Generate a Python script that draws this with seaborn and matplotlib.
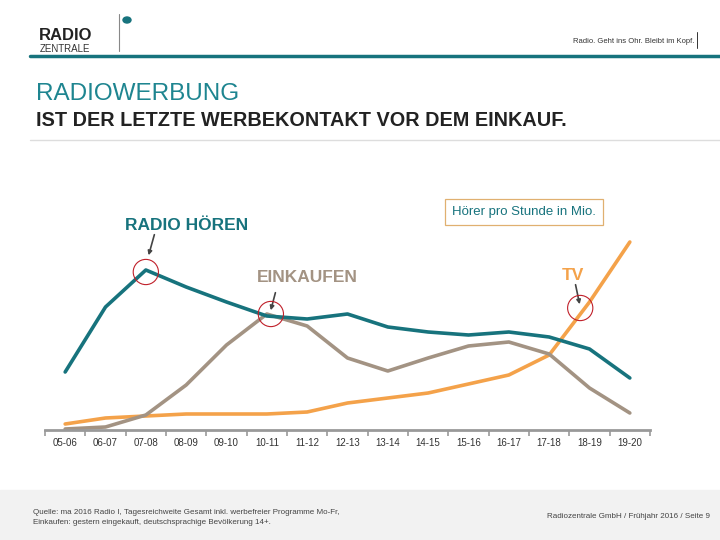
import matplotlib
matplotlib.use("Agg")
import matplotlib.pyplot as plt
import matplotlib.patches as mpatches
import matplotlib.lines as mlines
import pandas as pd
import seaborn as sns

# season labels on the x axis
seasons = ["05-06", "06-07", "07-08", "08-09", "09-10", "10-11", "11-12", "12-13",
           "13-14", "14-15", "15-16", "16-17", "17-18", "18-19", "19-20"]

# Hörer pro Stunde (relative scale)
radio_hoeren = [5.8, 12.3, 16.0, 14.3, 12.8, 11.4, 11.1, 11.6, 10.3, 9.8, 9.5, 9.8, 9.3, 8.1, 5.2]
einkaufen = [0.1, 0.3, 1.5, 4.5, 8.5, 11.6, 10.4, 7.2, 5.9, 7.2, 8.4, 8.8, 7.6, 4.2, 1.7]
tv = [0.6, 1.2, 1.4, 1.6, 1.6, 1.6, 1.8, 2.7, 3.2, 3.7, 4.6, 5.5, 7.5, 12.8, 18.8]

TEAL = "#17737d"
TAUPE = "#a39383"
ORANGE = "#f4a24a"
TITLE_TEAL = "#1e8590"

sns.set_theme(style="white")
plt.rcParams["font.family"] = ["Liberation Sans", "DejaVu Sans"]

rows = []
for name, vals in [("RADIO HÖREN", radio_hoeren), ("EINKAUFEN", einkaufen), ("TV", tv)]:
    for i, v in enumerate(vals):
        rows.append({"pos": i, "wert": v, "serie": name})
df = pd.DataFrame(rows)

fig = plt.figure(figsize=(7.2, 5.4), dpi=100)


def px(x, y):
    return x / 720, 1 - y / 540


# header / logo
fig.text(*px(39, 40), "RADIO", fontsize=12, fontweight="bold", color="#222222", va="baseline")
fig.text(*px(40, 52.5), "ZENTRALE", fontsize=7, color="#333333", va="baseline")
fig.add_artist(mlines.Line2D([119 / 720, 119 / 720], [1 - 14 / 540, 1 - 51 / 540],
                             color="#888888", lw=0.8))
fig.add_artist(mpatches.Circle(px(127, 20), 4 / 720, color=TEAL, transform=fig.transFigure))
fig.text(*px(694, 42), "Radio. Geht ins Ohr. Bleibt im Kopf.", fontsize=5.5, color="#333333",
         ha="right", va="center")
fig.add_artist(mlines.Line2D([697 / 720, 697 / 720], [1 - 32 / 540, 1 - 48 / 540],
                             color="#333333", lw=0.7))
fig.add_artist(mlines.Line2D([30 / 720, 1], [1 - 56 / 540, 1 - 56 / 540], color=TEAL, lw=2.5))

# titles
fig.text(*px(36, 94), "RADIOWERBUNG", fontsize=17.5, color=TITLE_TEAL, va="center")
fig.text(*px(36, 121), "IST DER LETZTE WERBEKONTAKT VOR DEM EINKAUF.", fontsize=14.3,
         fontweight="bold", color="#222222", va="center")
fig.add_artist(mlines.Line2D([30 / 720, 1], [1 - 140 / 540, 1 - 140 / 540], color="#dddddd", lw=1))

# footer
fig.add_artist(mpatches.Rectangle((0, 0), 1, 50 / 540, color="#f2f2f2", transform=fig.transFigure,
                                  zorder=0))
fig.text(*px(33, 513), "Quelle: ma 2016 Radio I, Tagesreichweite Gesamt inkl. werbefreier Programme Mo-Fr,",
         fontsize=5.8, color="#444444", va="center")
fig.text(*px(33, 522), "Einkaufen: gestern eingekauft, deutschsprachige Bevölkerung 14+.",
         fontsize=5.8, color="#444444", va="center")
fig.text(*px(710, 517), "Radiozentrale GmbH / Frühjahr 2016 / Seite 9", fontsize=5.8,
         color="#444444", ha="right", va="center")

# chart
ax = fig.add_axes([45 / 720, 110 / 540, 605 / 720, 200 / 540])
ax.set_facecolor("none")
sns.lineplot(data=df, x="pos", y="wert", hue="serie", ax=ax, linewidth=2.6,
             palette={"RADIO HÖREN": TEAL, "EINKAUFEN": TAUPE, "TV": ORANGE},
             hue_order=["TV", "EINKAUFEN", "RADIO HÖREN"], legend=False)
ax.set_xlim(-0.5, len(seasons) - 0.5)
ax.set_ylim(0, 20)
ax.set_xlabel("")
ax.set_ylabel("")
ax.set_yticks([])
ax.set_xticks(range(len(seasons)))
ax.set_xticklabels(seasons, fontsize=7, color="#333333")
ax.set_xticks([i - 0.5 for i in range(len(seasons) + 1)], minor=True)
ax.tick_params(axis="x", which="major", length=0, pad=6)
ax.tick_params(axis="x", which="minor", length=4, width=1.2, color="#999999", bottom=True)
for s in ["top", "left", "right"]:
    ax.spines[s].set_visible(False)
ax.spines["bottom"].set_color("#999999")
ax.spines["bottom"].set_linewidth(2)

# red circles on key points
marks = [(2.0, 15.8), (5.1, 11.6), (12.77, 12.2)]
ax.scatter([m[0] for m in marks], [m[1] for m in marks], s=330, facecolors="none",
           edgecolors="#c0202a", linewidths=0.8, zorder=5, clip_on=False)

arrow = dict(arrowstyle="-|>", color="#444444", lw=1.2, mutation_scale=6)
ax.text(3.0, 20.5, "RADIO HÖREN", fontsize=12.5, fontweight="bold", color=TEAL,
        ha="center", va="center", clip_on=False)
ax.annotate("", xy=(2.05, 17.2), xytext=(2.23, 19.8), arrowprops=arrow, annotation_clip=False)
ax.text(6.0, 15.2, "EINKAUFEN", fontsize=12.5, fontweight="bold", color=TAUPE,
        ha="center", va="center")
ax.annotate("", xy=(5.08, 11.7), xytext=(5.23, 14.0), arrowprops=arrow)
ax.text(12.6, 15.5, "TV", fontsize=12.5, fontweight="bold", color=ORANGE,
        ha="center", va="center")
ax.annotate("", xy=(12.77, 12.3), xytext=(12.64, 14.8), arrowprops=arrow)

# unit box
fig.text(*px(524, 212), "Hörer pro Stunde in Mio.", fontsize=9.5, color=TEAL, ha="center", va="center",
         bbox=dict(boxstyle="square,pad=0.55", fc="white", ec="#e0b070", lw=0.9))

fig.savefig("out.png", dpi=100)
